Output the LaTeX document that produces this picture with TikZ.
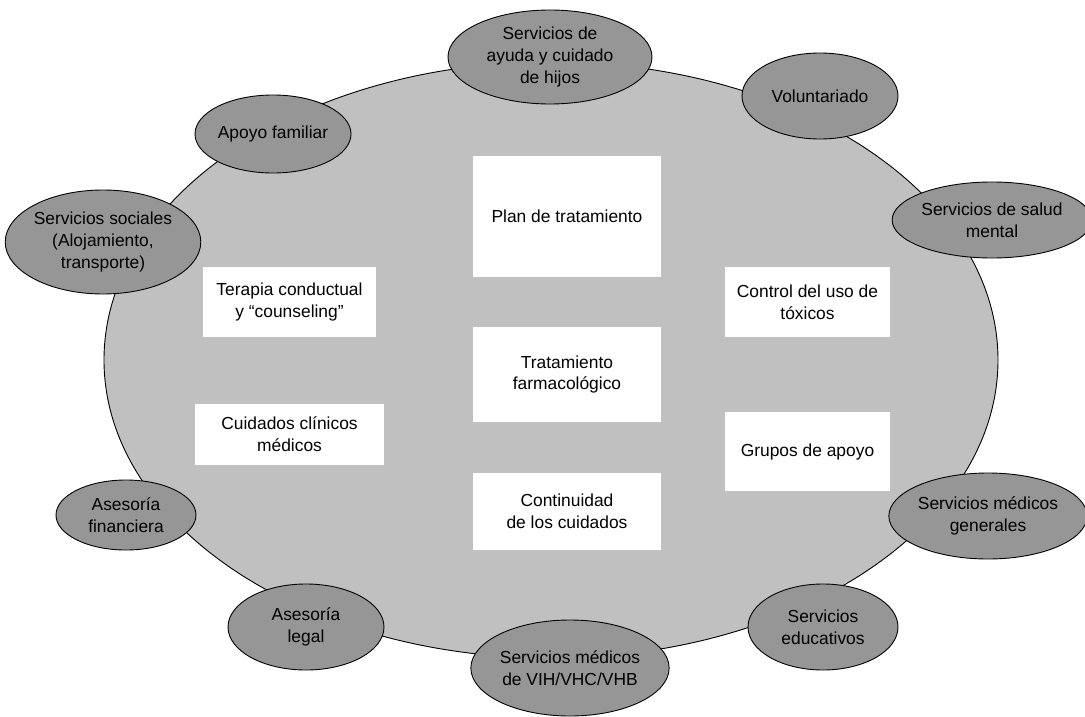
\documentclass[tikz,border=0pt]{standalone}
\usepackage{fontspec}
\setmainfont{Liberation Sans}
\usetikzlibrary{shapes.geometric}
\definecolor{bigfill}{RGB}{192,192,192}
\definecolor{smallfill}{RGB}{150,150,150}
\tikzset{
  svc/.style={ellipse, draw=black, line width=0.9pt, fill=smallfill, inner sep=0pt, align=center,
    font=\fontsize{17.4}{21.7}\selectfont},
  wbox/.style={rectangle, fill=white, inner sep=0pt, align=center,
    font=\fontsize{17.4}{21.7}\selectfont},
}
\begin{document}
\begin{tikzpicture}[x=1pt,y=-1pt]
\useasboundingbox (0,0) rectangle (1085,717);
\fill[white] (0,0) rectangle (1085,717);
\node[ellipse, draw=black, line width=0.9pt, fill=bigfill, minimum width=894pt, minimum height=596pt, inner sep=0pt] (main) at (551,360) {};
% white boxes
\node[wbox, minimum width=188pt, minimum height=121pt] (plan) at (567,216) {Plan de tratamiento};
\node[wbox, minimum width=188pt, minimum height=95pt] (farma) at (567,374.5) {Tratamiento\\farmacológico};
\node[wbox, minimum width=188pt, minimum height=77pt] (cont) at (567,511.5) {Continuidad\\de los cuidados};
\node[wbox, minimum width=173pt, minimum height=70pt] (terapia) at (289.5,302) {Terapia conductual\\y “counseling”};
\node[wbox, minimum width=189pt, minimum height=61pt] (clin) at (289.5,434.5) {Cuidados clínicos\\médicos};
\node[wbox, minimum width=165pt, minimum height=70pt] (control) at (807.5,302) {Control del uso de\\tóxicos};
\node[wbox, minimum width=165pt, minimum height=79pt] (grupos) at (807.5,451.5) {Grupos de apoyo};
% service ellipses
\node[svc, minimum width=204pt, minimum height=94pt] (hijos) at (550,57) {Servicios de\\ayuda y cuidado\\de hijos};
\node[svc, minimum width=156pt, minimum height=86pt] (volun) at (820,96) {Voluntariado};
\node[svc, minimum width=176pt, minimum height=76pt] (mental) at (992,220) {Servicios de salud\\mental};
\node[svc, minimum width=180pt, minimum height=86pt] (generales) at (988,516) {Servicios médicos\\generales};
\node[svc, minimum width=150pt, minimum height=86pt] (educ) at (823,627) {Servicios\\educativos};
\node[svc, minimum width=196pt, minimum height=96pt] (vih) at (570,668) {Servicios médicos\\de VIH/VHC/VHB};
\node[svc, minimum width=156pt, minimum height=86pt] (legal) at (306,627) {Asesoría\\legal};
\node[svc, minimum width=140pt, minimum height=70pt] (finan) at (126,515) {Asesoría\\financiera};
\node[svc, minimum width=184pt, minimum height=104pt] (social) at (103,242) {Servicios sociales\\(Alojamiento,\\transporte)};
\node[svc, minimum width=156pt, minimum height=78pt] (familia) at (273,134) {Apoyo familiar};
\end{tikzpicture}
\end{document}
